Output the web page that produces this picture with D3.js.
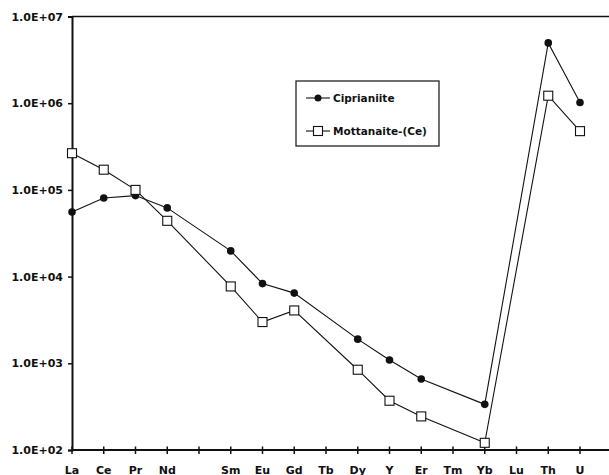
<!DOCTYPE html>
<html>
<head>
<meta charset="utf-8">
<script src="https://cdn.jsdelivr.net/npm/d3@7"></script>
<style>
  body { margin: 0; background: #fff; }
  text { font-family: "DejaVu Sans", Arial, sans-serif; font-weight: bold; }
</style>
</head>
<body>
<svg id="chart" width="609" height="475"></svg>
<script>
// element order along the x axis ("" is an unlabeled slot)
var elements = ['La', 'Ce', 'Pr', 'Nd', '', 'Sm', 'Eu', 'Gd', 'Tb', 'Dy', 'Y', 'Er', 'Tm', 'Yb', 'Lu', 'Th', 'U'];

// chondrite-normalized values, null where not plotted
var ciprianiite = [55500, 80500, 86000, 62000, null, 19800, 8300, 6450, null, 1900, 1090, 660, null, 336, null, 4960000, 1020000];
var mottanaite = [265000, 171000, 100000, 44000, null, 7700, 2990, 4070, null, 843, 370, 244, null, 121, null, 1220000, 476000];

var yTicks = [1e2, 1e3, 1e4, 1e5, 1e6, 1e7];
var yTickLabels = ['1.0E+02', '1.0E+03', '1.0E+04', '1.0E+05', '1.0E+06', '1.0E+07'];

var seriesNames = ['Ciprianiite', 'Mottanaite-(Ce)'];

var svg = d3.select('#chart');
var plotLeft = 72, plotTop = 16.5, plotBottom = 450, plotRight = 609;
var step = 31.75;

var x = d3.scalePoint()
    .domain(d3.range(elements.length))
    .range([plotLeft, plotLeft + step * (elements.length - 1)]);

var y = d3.scaleLog()
    .domain([1e2, 1e7])
    .range([plotBottom, plotTop]);

// frame: top line, left and bottom axes
svg.append('line')
    .attr('x1', plotLeft).attr('x2', plotRight)
    .attr('y1', plotTop).attr('y2', plotTop)
    .style('stroke', '#111').style('stroke-width', 1.6);

var yAxis = svg.append('g')
    .attr('transform', 'translate(' + plotLeft + ',0)')
    .call(d3.axisLeft(y).tickValues(yTicks).tickSize(4).tickPadding(5)
        .tickFormat(function(d, i){ return yTickLabels[i]; }));
yAxis.select('.domain').style('stroke', '#111').style('stroke-width', 2);
yAxis.selectAll('.tick line').style('stroke', '#111').style('stroke-width', 1.5);
yAxis.selectAll('text').style('font-size', '11px').attr('fill', '#111');

var xAxis = svg.append('g')
    .attr('transform', 'translate(0,' + plotBottom + ')');
xAxis.append('line')
    .attr('x1', plotLeft).attr('x2', plotRight)
    .style('stroke', '#111').style('stroke-width', 2);
xAxis.selectAll('line.tick')
    .data(d3.range(elements.length))
    .enter()
    .append('line')
    .attr('class', 'tick')
    .attr('x1', function(d){ return x(d); })
    .attr('x2', function(d){ return x(d); })
    .attr('y1', -3.5).attr('y2', 4)
    .style('stroke', '#111').style('stroke-width', 1.5);
xAxis.selectAll('text')
    .data(elements)
    .enter()
    .append('text')
    .attr('x', function(d, i){ return x(i); })
    .attr('y', 23.5)
    .attr('text-anchor', 'middle')
    .style('font-size', '11px')
    .attr('fill', '#111')
    .text(function(d){ return d; });

// series lines
function points(values){
    return values.map(function(v, i){ return {i: i, v: v}; })
        .filter(function(d){ return d.v !== null; });
}

var line = d3.line()
    .x(function(d){ return x(d.i); })
    .y(function(d){ return y(d.v); });

[ciprianiite, mottanaite].forEach(function(values){
    svg.append('path')
        .datum(points(values))
        .attr('d', line)
        .style('fill', 'none')
        .style('stroke', '#111')
        .style('stroke-width', 1.1);
});

// markers
svg.selectAll('circle.cip')
    .data(points(ciprianiite))
    .enter()
    .append('circle')
    .attr('class', 'cip')
    .attr('cx', function(d){ return x(d.i); })
    .attr('cy', function(d){ return y(d.v); })
    .attr('r', 3.8)
    .style('fill', '#111');

svg.selectAll('rect.mot')
    .data(points(mottanaite))
    .enter()
    .append('rect')
    .attr('class', 'mot')
    .attr('x', function(d){ return x(d.i) - 4.5; })
    .attr('y', function(d){ return y(d.v) - 4.5; })
    .attr('width', 9).attr('height', 9)
    .style('fill', '#fff')
    .style('stroke', '#111')
    .style('stroke-width', 1.1);

// legend
var legend = svg.append('g');
legend.append('rect')
    .attr('x', 296).attr('y', 81)
    .attr('width', 143).attr('height', 65)
    .style('fill', '#fff')
    .style('stroke', '#222')
    .style('stroke-width', 1.3);

var legendRows = legend.selectAll('g.row')
    .data(seriesNames)
    .enter()
    .append('g')
    .attr('class', 'row')
    .attr('transform', function(d, i){ return 'translate(0,' + (98 + i * 33) + ')'; });

legendRows.append('line')
    .attr('x1', 306).attr('x2', 330)
    .style('stroke', '#111').style('stroke-width', 1.1);
legendRows.filter(function(d, i){ return i === 0; })
    .append('circle')
    .attr('cx', 318).attr('cy', 0).attr('r', 3.5)
    .style('fill', '#111');
legendRows.filter(function(d, i){ return i === 1; })
    .append('rect')
    .attr('x', 313.5).attr('y', -4.5).attr('width', 9).attr('height', 9)
    .style('fill', '#fff').style('stroke', '#111').style('stroke-width', 1.1);
legendRows.append('text')
    .attr('x', 333).attr('y', 4)
    .style('font-size', '10.5px')
    .attr('fill', '#111')
    .text(function(d){ return d; });
</script>
</body>
</html>
